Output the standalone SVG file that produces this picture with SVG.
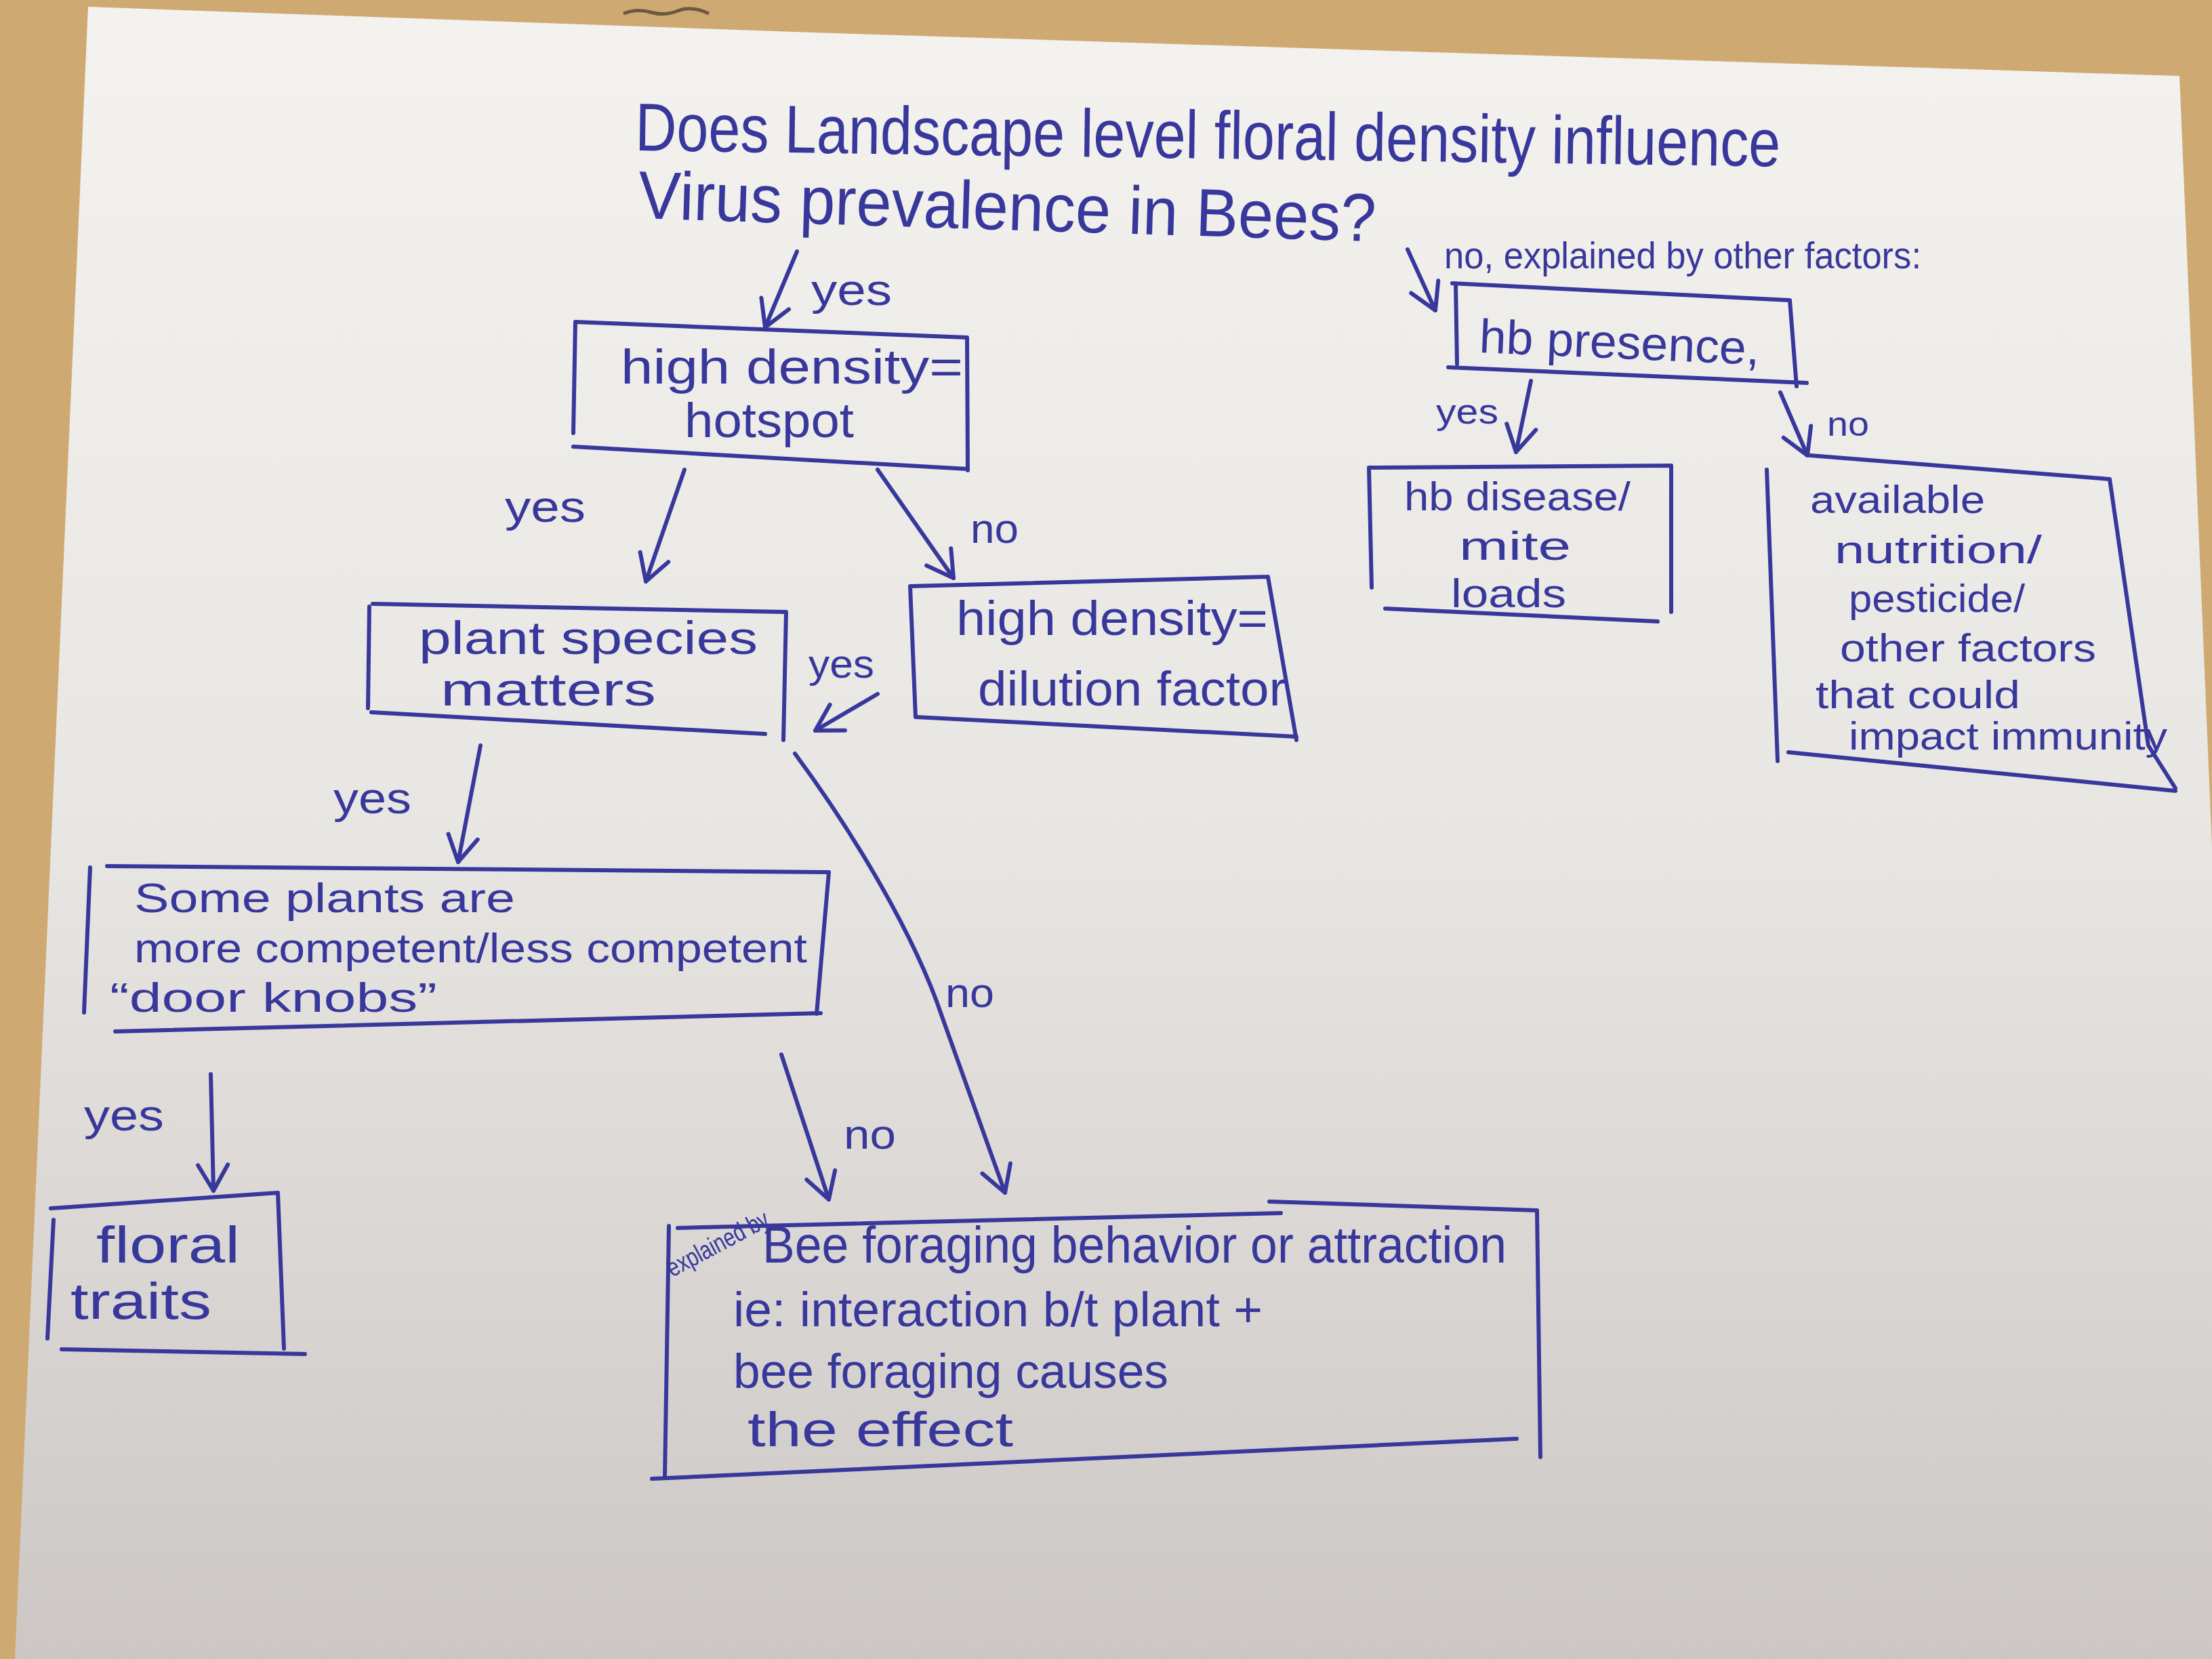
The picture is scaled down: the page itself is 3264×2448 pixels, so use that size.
<svg xmlns="http://www.w3.org/2000/svg" width="3264" height="2448" viewBox="0 0 3264 2448">
<defs>
<linearGradient id="paper" x1="0" y1="0" x2="0" y2="1">
<stop offset="0" stop-color="#f3f2ee"/>
<stop offset="0.5" stop-color="#e8e6e2"/>
<stop offset="1" stop-color="#ccc7c5"/>
</linearGradient>
<marker id="ah" viewBox="-45 -30 50 60" markerWidth="50" markerHeight="60" refX="0" refY="0" orient="auto" markerUnits="userSpaceOnUse">
<path d="M-38,-22 L0,0 L-38,22" fill="none" stroke="#38389c" stroke-width="6" stroke-linecap="round" stroke-linejoin="round"/>
</marker>
<style>
.ink{fill:none;stroke:#38389c;stroke-width:6;stroke-linecap:round;stroke-linejoin:round}
.t{font-family:"Liberation Sans",Arial,sans-serif;fill:#38389c}
</style>
</defs>
<rect x="0" y="0" width="3264" height="2448" fill="#cfa972"/>
<polygon points="130,10 1200,48 3216,112 3264,1250 3264,2448 22,2448" fill="url(#paper)"/>
<path d="M920,20 Q940,12 960,18 T1000,16 T1046,20" fill="none" stroke="#6b5a40" stroke-width="5"/>

<g id="title">
<text class="t" x="937" y="222" font-size="100" textLength="1690" lengthAdjust="spacingAndGlyphs" transform="rotate(0.8 937 222)">Does Landscape level floral density influence</text>
<text class="t" x="941" y="322" font-size="100" textLength="1089" lengthAdjust="spacingAndGlyphs" transform="rotate(1.8 941 322)">Virus prevalence in Bees?</text>
</g>

<g id="hotspot">
<path class="ink" d="M849,475 L1427,498 M1427,498 L1428,694 M849,475 L846,639 M846,659 L1427,692"/>
<text class="t" x="916" y="566" font-size="72" textLength="505" lengthAdjust="spacingAndGlyphs">high density=</text>
<text class="t" x="1010" y="645" font-size="72" textLength="250" lengthAdjust="spacingAndGlyphs">hotspot</text>
</g>

<g id="species">
<path class="ink" d="M550,891 L1160,903 M1160,903 L1156,1092 M545,895 L543,1045 M548,1051 L1129,1083"/>
<text class="t" x="618" y="965" font-size="68" textLength="500" lengthAdjust="spacingAndGlyphs">plant species</text>
<text class="t" x="650" y="1041" font-size="68" textLength="318" lengthAdjust="spacingAndGlyphs">matters</text>
</g>

<g id="dilution">
<path class="ink" d="M1343,865 L1871,851 M1871,851 L1913,1092 M1343,865 L1351,1058 M1351,1058 L1913,1087"/>
<text class="t" x="1411" y="937" font-size="72" textLength="460" lengthAdjust="spacingAndGlyphs">high density=</text>
<text class="t" x="1443" y="1041" font-size="72" textLength="455" lengthAdjust="spacingAndGlyphs">dilution factor</text>
</g>

<g id="competent">
<path class="ink" d="M158,1278 L1223,1287 M1223,1287 L1205,1496 M133,1280 L124,1494 M170,1522 L1211,1495"/>
<text class="t" x="198" y="1346" font-size="62" textLength="562" lengthAdjust="spacingAndGlyphs">Some plants are</text>
<text class="t" x="198" y="1420" font-size="62" textLength="993" lengthAdjust="spacingAndGlyphs">more competent/less competent</text>
<text class="t" x="162" y="1493" font-size="62" textLength="483" lengthAdjust="spacingAndGlyphs">“door knobs”</text>
</g>

<g id="floral">
<path class="ink" d="M75,1783 L410,1760 M410,1760 L419,1990 M79,1800 L70,1975 M91,1991 L450,1998"/>
<text class="t" x="142" y="1863" font-size="76" textLength="212" lengthAdjust="spacingAndGlyphs">floral</text>
<text class="t" x="104" y="1946" font-size="76" textLength="208" lengthAdjust="spacingAndGlyphs">traits</text>
</g>

<g id="foraging">
<path class="ink" d="M1000,1812 L1890,1790 M1873,1773 L2268,1786 M2268,1786 L2273,2150 M987,1809 L981,2180 M962,2182 L2238,2123"/>
<text class="t" x="992" y="1885" font-size="38" textLength="165" lengthAdjust="spacingAndGlyphs" transform="rotate(-28 992 1885)">explained by</text>
<text class="t" x="1125" y="1863" font-size="76" textLength="1098" lengthAdjust="spacingAndGlyphs">Bee foraging behavior or attraction</text>
<text class="t" x="1082" y="1957" font-size="72" textLength="781" lengthAdjust="spacingAndGlyphs">ie: interaction b/t plant +</text>
<text class="t" x="1082" y="2048" font-size="72" textLength="642" lengthAdjust="spacingAndGlyphs">bee foraging causes</text>
<text class="t" x="1103" y="2134" font-size="72" textLength="392" lengthAdjust="spacingAndGlyphs">the effect</text>
</g>

<g id="presence">
<path class="ink" d="M2143,418 L2641,443 M2641,443 L2651,570 M2148,418 L2150,537 M2137,542 L2666,565"/>
<text class="t" x="2182" y="520" font-size="70" textLength="414" lengthAdjust="spacingAndGlyphs" transform="rotate(2.5 2182 520)">hb presence,</text>
</g>

<g id="mites">
<path class="ink" d="M2020,690 L2466,687 M2466,687 L2466,903 M2020,690 L2024,867 M2044,898 L2446,917"/>
<text class="t" x="2072" y="753" font-size="60" textLength="334" lengthAdjust="spacingAndGlyphs">hb disease/</text>
<text class="t" x="2153" y="826" font-size="60" textLength="165" lengthAdjust="spacingAndGlyphs">mite</text>
<text class="t" x="2141" y="896" font-size="60" textLength="170" lengthAdjust="spacingAndGlyphs">loads</text>
</g>

<g id="nutrition">
<path class="ink" d="M2671,672 L3113,707 M3113,707 L3170,1100 L3210,1163 M2607,693 L2623,1123 M2639,1110 L3210,1167"/>
<text class="t" x="2671" y="757" font-size="58" textLength="258" lengthAdjust="spacingAndGlyphs">available</text>
<text class="t" x="2707" y="831" font-size="58" textLength="306" lengthAdjust="spacingAndGlyphs">nutrition/</text>
<text class="t" x="2728" y="903" font-size="58" textLength="260" lengthAdjust="spacingAndGlyphs">pesticide/</text>
<text class="t" x="2715" y="976" font-size="58" textLength="378" lengthAdjust="spacingAndGlyphs">other factors</text>
<text class="t" x="2679" y="1045" font-size="58" textLength="302" lengthAdjust="spacingAndGlyphs">that could</text>
<text class="t" x="2728" y="1106" font-size="58" textLength="470" lengthAdjust="spacingAndGlyphs">impact immunity</text>
</g>

<g id="connectors">
<path class="ink" d="M1176,371 L1129,483" marker-end="url(#ah)"/>
<text class="t" x="1197" y="450" font-size="64" textLength="119" lengthAdjust="spacingAndGlyphs">yes</text>
<path class="ink" d="M1010,693 L953,858" marker-end="url(#ah)"/>
<text class="t" x="745" y="770" font-size="64" textLength="119" lengthAdjust="spacingAndGlyphs">yes</text>
<path class="ink" d="M1295,693 L1407,853" marker-end="url(#ah)"/>
<text class="t" x="1432" y="801" font-size="62" textLength="71" lengthAdjust="spacingAndGlyphs">no</text>
<path class="ink" d="M1295,1024 L1203,1078" marker-end="url(#ah)"/>
<text class="t" x="1193" y="1000" font-size="60" textLength="97" lengthAdjust="spacingAndGlyphs">yes</text>
<path class="ink" d="M709,1100 L676,1272" marker-end="url(#ah)"/>
<text class="t" x="492" y="1200" font-size="64" textLength="115" lengthAdjust="spacingAndGlyphs">yes</text>
<path class="ink" d="M311,1585 L315,1757" marker-end="url(#ah)"/>
<text class="t" x="124" y="1668" font-size="64" textLength="118" lengthAdjust="spacingAndGlyphs">yes</text>
<path class="ink" d="M1173,1112 C1260,1230 1350,1380 1390,1500 L1483,1760" marker-end="url(#ah)"/>
<text class="t" x="1395" y="1486" font-size="62" textLength="72" lengthAdjust="spacingAndGlyphs">no</text>
<path class="ink" d="M1153,1556 L1223,1770" marker-end="url(#ah)"/>
<text class="t" x="1245" y="1695" font-size="62" textLength="77" lengthAdjust="spacingAndGlyphs">no</text>
<path class="ink" d="M2077,368 L2118,458" marker-end="url(#ah)"/>
<text class="t" x="2131" y="396" font-size="56" textLength="704" lengthAdjust="spacingAndGlyphs">no, explained by other factors:</text>
<path class="ink" d="M2259,562 L2237,667" marker-end="url(#ah)"/>
<text class="t" x="2119" y="625" font-size="52" textLength="92" lengthAdjust="spacingAndGlyphs">yes</text>
<path class="ink" d="M2627,579 L2667,672" marker-end="url(#ah)"/>
<text class="t" x="2696" y="643" font-size="50" textLength="62" lengthAdjust="spacingAndGlyphs">no</text>
</g>
</svg>
